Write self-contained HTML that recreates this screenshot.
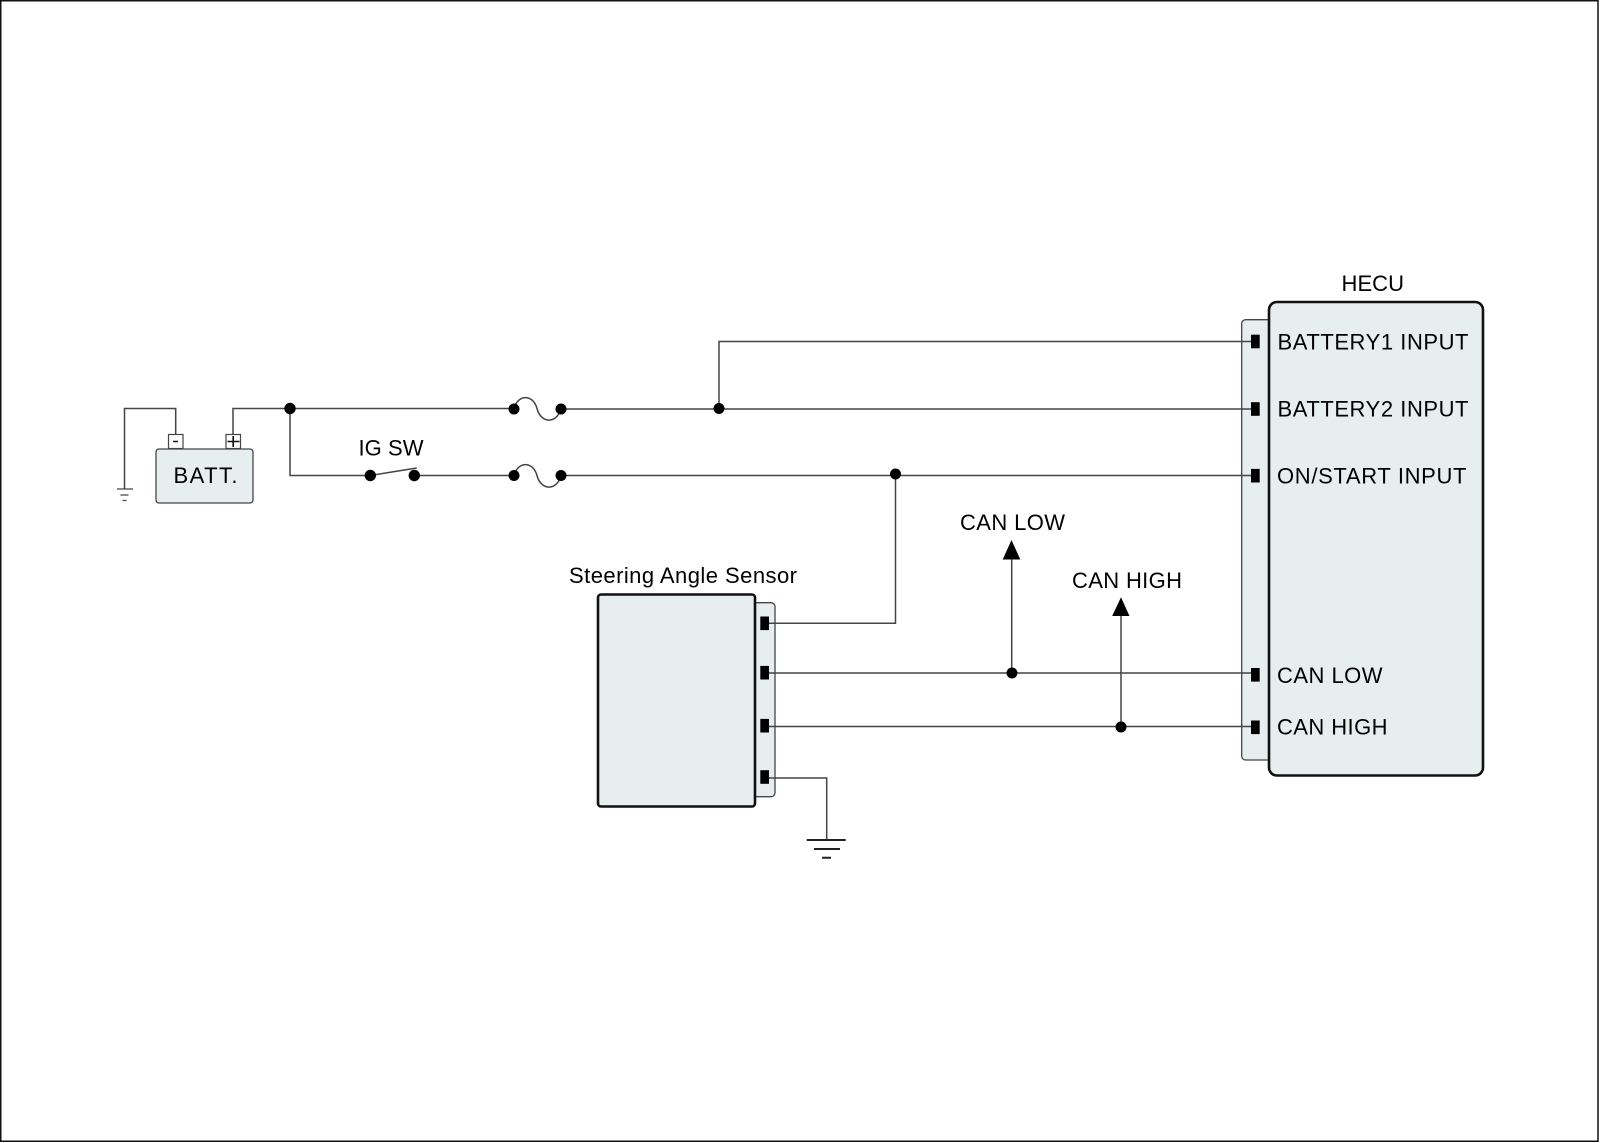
<!DOCTYPE html>
<html><head><meta charset="utf-8"><style>
html,body{margin:0;padding:0;background:#fff}
svg{display:block}
text{font-family:"Liberation Sans",sans-serif;font-size:22px;fill:#000}
</style></head><body>
<svg width="1600" height="1143" viewBox="0 0 1600 1143" xmlns="http://www.w3.org/2000/svg">
<rect width="1600" height="1143" fill="#fff"/>
<path d="M.75 .75H1598V1141.2H.75Z" fill="none" stroke="#111" stroke-width="1.5"/>
<!-- connector strips -->
<rect x="1241.7" y="319.7" width="40" height="440.3" rx="4" fill="#e6eeef" stroke="#444" stroke-width="1.3"/>
<rect x="735" y="602.7" width="40" height="194" rx="4" fill="#e6eeef" stroke="#444" stroke-width="1.3"/>
<!-- main boxes -->
<rect x="1269" y="302" width="214" height="473.5" rx="8" fill="#e6eeef" stroke="#111" stroke-width="2.6"/>
<rect x="598" y="594.5" width="157" height="212" rx="3" fill="#e6eeef" stroke="#111" stroke-width="2.6"/>
<!-- battery -->
<rect x="168.5" y="434.5" width="14.5" height="14" fill="#fff" stroke="#444" stroke-width="1.2"/>
<rect x="226" y="434.5" width="14.5" height="14" fill="#fff" stroke="#444" stroke-width="1.2"/>
<rect x="156" y="449" width="97" height="54" rx="3" fill="#e6eeef" stroke="#444" stroke-width="1.3"/>
<path d="M173 441.5h5M227.5 441.5h12M233.2 436v11" fill="none" stroke="#111" stroke-width="1.6"/>
<!-- wires -->
<g fill="none" stroke="#444" stroke-width="1.5">
<path d="M175.7 434V408.5H124.5V489"/>
<path d="M233 434V408.5H514"/>
<path d="M290 408.5V475.5H370"/>
<path d="M370 475.5L416.7 468"/>
<path d="M414 475.5H514"/>
<path d="M514 408.5C518 394 533 394 537 408.5C541 424 557 424 561 408.5"/>
<path d="M514 475.5C518 461 533 461 537 475.5C541 491 557 491 561 475.5"/>
<path d="M561 409H1251"/>
<path d="M719 409V341.5H1251"/>
<path d="M561 475.5H1251"/>
<path d="M895.5 475V623.3H769"/>
<path d="M769 673H1251"/>
<path d="M769 726.5H1251"/>
<path d="M769 778H826.7V840"/>
<path d="M1011.7 673V556"/>
<path d="M1121 726.5V612"/>
<path d="M117 489h16M120.5 495h8M122.5 500.5h4" stroke-width="1.2"/>
<path d="M806.7 840h39M814 849h26M822 857.7h9" stroke="#222" stroke-width="2"/>
</g>
<!-- arrows -->
<path d="M1011.5 540L1020.3 559.5H1002.7Z" fill="#000"/>
<path d="M1121 597.3L1129.5 616H1112.2Z" fill="#000"/>
<!-- junction dots -->
<g fill="#000">
<circle cx="290" cy="408.5" r="5.7"/>
<circle cx="514" cy="409" r="5.5"/>
<circle cx="561" cy="409" r="5.5"/>
<circle cx="719" cy="408.5" r="5.5"/>
<circle cx="370.3" cy="475.5" r="5.7"/>
<circle cx="414.3" cy="475.5" r="5.7"/>
<circle cx="514" cy="475.5" r="5.5"/>
<circle cx="561" cy="475.5" r="5.5"/>
<circle cx="895.5" cy="474" r="5.5"/>
<circle cx="1012" cy="673" r="5.5"/>
<circle cx="1121" cy="727" r="5.5"/>
<!-- pins -->
<rect x="1251" y="334.7" width="8.7" height="13.6"/>
<rect x="1251" y="402.2" width="8.7" height="13.6"/>
<rect x="1251" y="468.9" width="8.7" height="13.6"/>
<rect x="1251" y="668" width="8.7" height="13.6"/>
<rect x="1251" y="720.5" width="8.7" height="13.6"/>
<rect x="760.3" y="616.5" width="8.7" height="13.6"/>
<rect x="760.3" y="665.9" width="8.7" height="13.6"/>
<rect x="760.3" y="718.9" width="8.7" height="13.6"/>
<rect x="760.3" y="770.2" width="8.7" height="13.6"/>
</g>
<!-- labels -->
<text x="173.5" y="483" textLength="64">BATT.</text>
<text x="358.5" y="455.5" textLength="65">IG SW</text>
<text x="1341.5" y="291" textLength="62.5">HECU</text>
<text x="1277.5" y="349.5" textLength="191">BATTERY1 INPUT</text>
<text x="1277.5" y="416.7" textLength="191">BATTERY2 INPUT</text>
<text x="1277" y="483.3" textLength="189.5">ON/START INPUT</text>
<text x="1277" y="683" textLength="105.5">CAN LOW</text>
<text x="1277" y="734.3" textLength="110.5">CAN HIGH</text>
<text x="569" y="583" textLength="228">Steering Angle Sensor</text>
<text x="960" y="530" textLength="105">CAN LOW</text>
<text x="1072" y="588" textLength="110">CAN HIGH</text>
</svg>
</body></html>
